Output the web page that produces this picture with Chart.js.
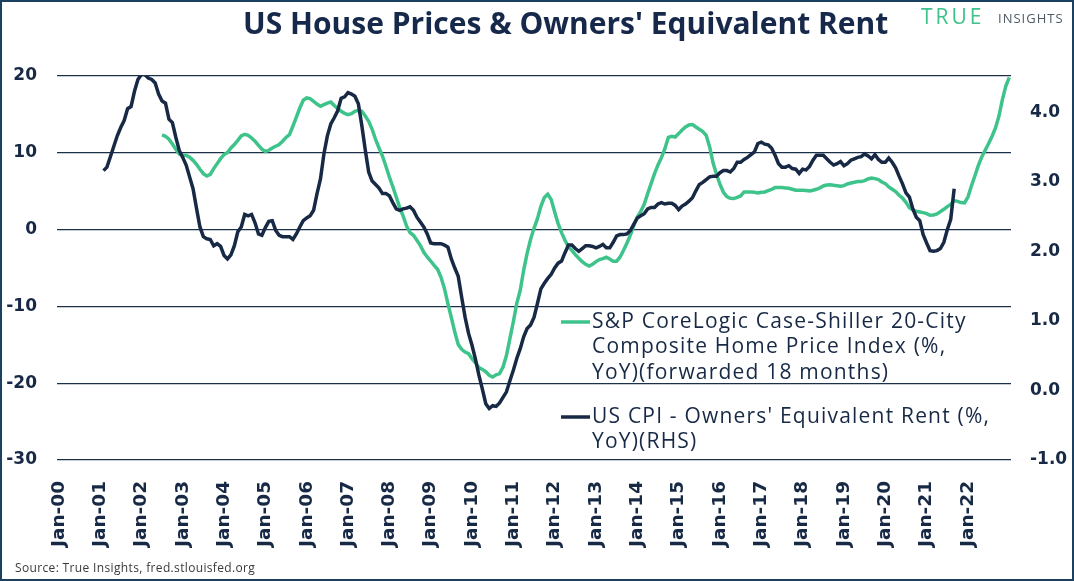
<!DOCTYPE html>
<html>
<head>
<meta charset="utf-8">
<script src="https://cdn.jsdelivr.net/npm/chart.js@4.4.1/dist/chart.umd.min.js"></script>
<style>
  html, body { margin: 0; padding: 0; background: #fff; }
  #wrap { position: relative; width: 1074px; height: 581px; overflow: hidden; }
  #frame { position: absolute; left: 0; top: 0; width: 1074px; height: 581px; box-sizing: border-box; border: 2px solid #1c4160; pointer-events: none; }
  .txt { position: absolute; white-space: nowrap; font-family: "Open Sans", sans-serif; }
  #title { left: 243px; top: 8px; font-size: 30px; line-height: 30px; font-weight: 700; color: #17294a; }
  #logo-true { left: 921px; top: 6px; font-size: 21px; line-height: 21px; font-weight: 400; color: #3ec38b; letter-spacing: 3px; }
  #logo-ins { left: 998px; top: 12px; font-size: 13px; line-height: 13px; color: #4d5a66; letter-spacing: 1px; }
  #source { left: 15px; top: 562px; font-size: 12px; line-height: 12px; color: #3a3a3a; letter-spacing: 0.35px; }
</style>
</head>
<body>
<div id="wrap">
  <canvas id="houseChart" width="1074" height="581"></canvas>
  <div class="txt" id="title">US House Prices &amp; Owners' Equivalent Rent</div>
  <div class="txt" id="logo-true">TRUE</div>
  <div class="txt" id="logo-ins">INSIGHTS</div>
  <div class="txt" id="source">Source: True Insights, fred.stlouisfed.org</div>
  <div id="frame"></div>
</div>
<script>
// monthly categories Jan-00 .. Jan-23
const monthNames = ["Jan", "Feb", "Mar", "Apr", "May", "Jun", "Jul", "Aug", "Sep", "Oct", "Nov", "Dec"];
const categories = [];
for (let yr = 2000; yr <= 2023; yr++) {
  for (let mo = 0; mo < 12; mo++) {
    if (yr === 2023 && mo > 0) break;
    categories.push(monthNames[mo] + "-" + String(yr % 100).padStart(2, "0"));
  }
}

const houseLabel = "S&P CoreLogic Case-Shiller 20-City Composite Home Price Index (%, YoY)(forwarded 18 months)";
const houseLines = ["S&P CoreLogic Case-Shiller 20-City", "Composite Home Price Index (%,", "YoY)(forwarded 18 months)"];
const houseStart = "Jul-02";
// left axis, %
const houseValues = [
  12.32, 12.15, 11.76, 11.15, 10.46, 9.85,
  9.68, 9.68, 9.42, 9.02, 8.50, 7.85, 7.29, 6.98, 7.20, 7.94, 8.59, 9.24,
  9.77, 10.03, 10.63, 11.07, 11.63, 12.19, 12.41, 12.28, 11.93, 11.50, 10.98, 10.46,
  10.16, 10.33, 10.63, 10.85, 11.07, 11.50, 12.0, 12.37, 13.49, 14.66, 15.83, 16.84,
  17.14, 17.06, 16.71, 16.35, 16.05, 16.28, 16.48, 16.62, 16.15, 15.76, 15.41, 15.14,
  14.97, 15.10, 15.41, 15.54, 15.41, 14.80, 14.10, 13.06, 11.76, 10.63, 9.58, 8.24,
  6.85, 5.60, 4.24, 2.90, 1.77, 0.47, -0.39, -0.74, -1.39, -2.08, -2.96, -3.57,
  -4.09, -4.65, -5.17, -6.21, -7.68, -9.64, -11.46, -13.33, -14.97, -15.59, -15.94, -16.15,
  -16.80, -17.37, -17.95, -18.2, -18.5, -18.97, -19.19, -18.9, -18.75, -17.9, -16.4, -14.2,
  -12.0, -9.6, -7.9, -5.3, -3.1, -1.3, 0.17, 1.43, 3.03, 4.17, 4.60, 3.9,
  2.3, 0.78, -0.39, -1.39, -2.26, -2.7, -3.26, -3.73, -4.17, -4.52, -4.74, -4.52,
  -4.17, -3.9, -3.78, -3.6, -3.82, -4.13, -4.13, -3.56, -2.69, -1.74, -0.7, 0.56,
  1.65, 2.38, 3.29, 4.68, 5.99, 7.29, 8.42, 9.37, 10.54, 12.0, 12.15, 12.06,
  12.5, 12.97, 13.36, 13.62, 13.67, 13.36, 13.06, 12.76, 12.28, 10.76, 8.67, 7.2,
  5.9, 4.86, 4.3, 4.08, 4.04, 4.21, 4.38, 4.9, 4.9, 4.9, 4.86, 4.77,
  4.86, 4.9, 5.08, 5.25, 5.47, 5.47, 5.47, 5.43, 5.38, 5.25, 5.12, 5.12,
  5.12, 5.08, 5.03, 5.12, 5.25, 5.43, 5.68, 5.81, 5.85, 5.77, 5.72, 5.64,
  5.72, 5.94, 6.07, 6.16, 6.27, 6.25, 6.38, 6.59, 6.72, 6.64, 6.51, 6.2,
  5.99, 5.55, 5.25, 4.95, 4.47, 4.11, 3.55, 2.86, 2.55, 2.38, 2.3, 2.21,
  2.08, 1.86, 1.9, 2.03, 2.34, 2.64, 2.99, 3.29, 3.78, 3.68, 3.52, 3.47,
  4.24, 5.68, 6.98, 8.33, 9.45, 10.33, 11.2, 12.15, 13.23, 14.79, 16.93, 18.7,
  19.83
];

const rentLabel = "US CPI - Owners' Equivalent Rent (%, YoY)(RHS)";
const rentLines = ["US CPI - Owners' Equivalent Rent (%,", "YoY)(RHS)"];
const rentStart = "Feb-01";
// right axis, %
const rentValues = [
  3.16, 3.21, 3.36, 3.51, 3.66, 3.78, 3.88, 4.05, 4.08, 4.30, 4.47,
  4.54, 4.54, 4.49, 4.47, 4.42, 4.26, 4.16, 4.13, 3.90, 3.85, 3.64, 3.45,
  3.35, 3.24, 3.07, 2.90, 2.62, 2.35, 2.21, 2.18, 2.17, 2.08, 2.11, 2.07,
  1.94, 1.89, 1.95, 2.08, 2.28, 2.35, 2.53, 2.51, 2.53, 2.41, 2.25, 2.23,
  2.34, 2.43, 2.44, 2.30, 2.23, 2.21, 2.21, 2.21, 2.17, 2.25, 2.35, 2.44,
  2.48, 2.51, 2.59, 2.83, 3.04, 3.40, 3.66, 3.83, 3.92, 4.02, 4.20, 4.22,
  4.28, 4.26, 4.23, 4.12, 3.81, 3.46, 3.14, 3.01, 2.96, 2.91, 2.83, 2.83,
  2.80, 2.70, 2.61, 2.59, 2.61, 2.62, 2.64, 2.59, 2.49, 2.42, 2.35, 2.25,
  2.12, 2.11, 2.11, 2.11, 2.09, 2.06, 1.89, 1.76, 1.64, 1.34, 1.05, 0.82,
  0.65, 0.45, 0.22, 0.02, -0.19, -0.26, -0.22, -0.23, -0.18, -0.10, -0.02, 0.14,
  0.29, 0.46, 0.60, 0.77, 0.89, 0.94, 1.05, 1.25, 1.46, 1.54, 1.61, 1.67,
  1.76, 1.83, 1.86, 1.98, 2.09, 2.09, 2.04, 2.00, 2.04, 2.08, 2.08, 2.07,
  2.05, 2.07, 2.10, 2.05, 2.05, 2.13, 2.22, 2.24, 2.24, 2.25, 2.30, 2.39,
  2.48, 2.51, 2.54, 2.61, 2.63, 2.63, 2.68, 2.70, 2.68, 2.69, 2.69, 2.66,
  2.60, 2.65, 2.68, 2.72, 2.77, 2.87, 2.96, 2.99, 3.03, 3.07, 3.08, 3.08,
  3.13, 3.16, 3.16, 3.14, 3.19, 3.28, 3.28, 3.32, 3.35, 3.39, 3.43, 3.55,
  3.57, 3.54, 3.53, 3.48, 3.38, 3.26, 3.21, 3.21, 3.23, 3.19, 3.18, 3.12,
  3.18, 3.17, 3.22, 3.31, 3.38, 3.38, 3.38, 3.33, 3.28, 3.24, 3.26, 3.29,
  3.23, 3.26, 3.31, 3.33, 3.35, 3.36, 3.40, 3.37, 3.33, 3.39, 3.32, 3.28,
  3.28, 3.34, 3.28, 3.20, 3.08, 2.97, 2.84, 2.78, 2.61, 2.49, 2.44, 2.24,
  2.12, 2.01, 2.00, 2.01, 2.04, 2.13, 2.31, 2.46, 2.90
];

const leftTicks = [-30, -20, -10, 0, 10, 20];
const rightTicks = [-1, 0, 1, 2, 3, 4];
const rightMax = 4.52;

const green = "#3ec38b";
const navy = "#172945";

function padFrom(label, values) {
  return Array(categories.indexOf(label)).fill(null).concat(values);
}

// legend drawn by hand so the long labels can wrap like the original
const wrapLegend = {
  id: "wrapLegend",
  afterDatasetsDraw(chart, args, opts) {
    const ctx = chart.ctx;
    let y = opts.y;
    ctx.save();
    ctx.font = "21px 'Open Sans'";
    ctx.letterSpacing = "1.2px";
    ctx.textBaseline = "middle";
    ctx.fillStyle = navy;
    opts.items.forEach((item) => {
      ctx.strokeStyle = item.color;
      ctx.lineWidth = 3.5;
      ctx.beginPath();
      ctx.moveTo(opts.x, y);
      ctx.lineTo(opts.x + 29, y);
      ctx.stroke();
      item.lines.forEach((line, j) => {
        ctx.fillText(line, opts.x + 31, y + j * opts.lineHeight);
      });
      y += (item.lines.length - 1) * opts.lineHeight + opts.gap;
    });
    ctx.restore();
  },
};

const ctx = document.getElementById("houseChart").getContext("2d");

new Chart(ctx, {
  type: "line",
  data: {
    labels: categories,
    datasets: [
      {
        label: houseLabel,
        data: padFrom(houseStart, houseValues),
        borderColor: green,
        borderWidth: 3.5,
        pointRadius: 0,
        yAxisID: "y",
        order: 2,
      },
      {
        label: rentLabel,
        data: padFrom(rentStart, rentValues),
        borderColor: navy,
        borderWidth: 3.5,
        pointRadius: 0,
        yAxisID: "y1",
        order: 1,
      },
    ],
  },
  options: {
    responsive: false,
    animation: false,
    devicePixelRatio: 1,
    layout: { padding: { top: 76, left: 0, right: 0, bottom: 0 } },
    plugins: {
      legend: { display: false },
      tooltip: { enabled: false },
      wrapLegend: {
        x: 561,
        y: 322,
        lineHeight: 25.5,
        gap: 44,
        items: [
          { color: green, lines: houseLines },
          { color: navy, lines: rentLines },
        ],
      },
    },
    scales: {
      x: {
        offset: true,
        grid: { display: false },
        border: { display: false },
        afterFit(scale) { scale.height = 121; },
        ticks: {
          autoSkip: false,
          minRotation: 90,
          maxRotation: 90,
          padding: 13,
          color: navy,
          font: { family: "DejaVu Sans", size: 18.5, weight: "bold" },
          callback(value, index) {
            return index % 12 === 0 && index < categories.length - 1 ? categories[index] : null;
          },
        },
      },
      y: {
        position: "left",
        min: -30,
        max: 20,
        afterFit(scale) { scale.width = 57; },
        afterBuildTicks(scale) { scale.ticks = leftTicks.map((v) => ({ value: v })); },
        grid: { color: "#1d3049", lineWidth: 1.3, drawTicks: false },
        border: { display: false },
        ticks: {
          padding: 20,
          color: navy,
          font: { family: "DejaVu Sans", size: 17, weight: "bold" },
        },
      },
      y1: {
        position: "right",
        min: -1,
        max: rightMax,
        afterFit(scale) { scale.width = 63; },
        afterBuildTicks(scale) { scale.ticks = rightTicks.map((v) => ({ value: v })); },
        grid: { display: false, drawTicks: false },
        border: { display: false },
        ticks: {
          padding: 19,
          color: navy,
          font: { family: "DejaVu Sans", size: 17, weight: "bold" },
          callback: (v) => v.toFixed(1),
        },
      },
    },
  },
  plugins: [wrapLegend],
});
</script>
</body>
</html>
